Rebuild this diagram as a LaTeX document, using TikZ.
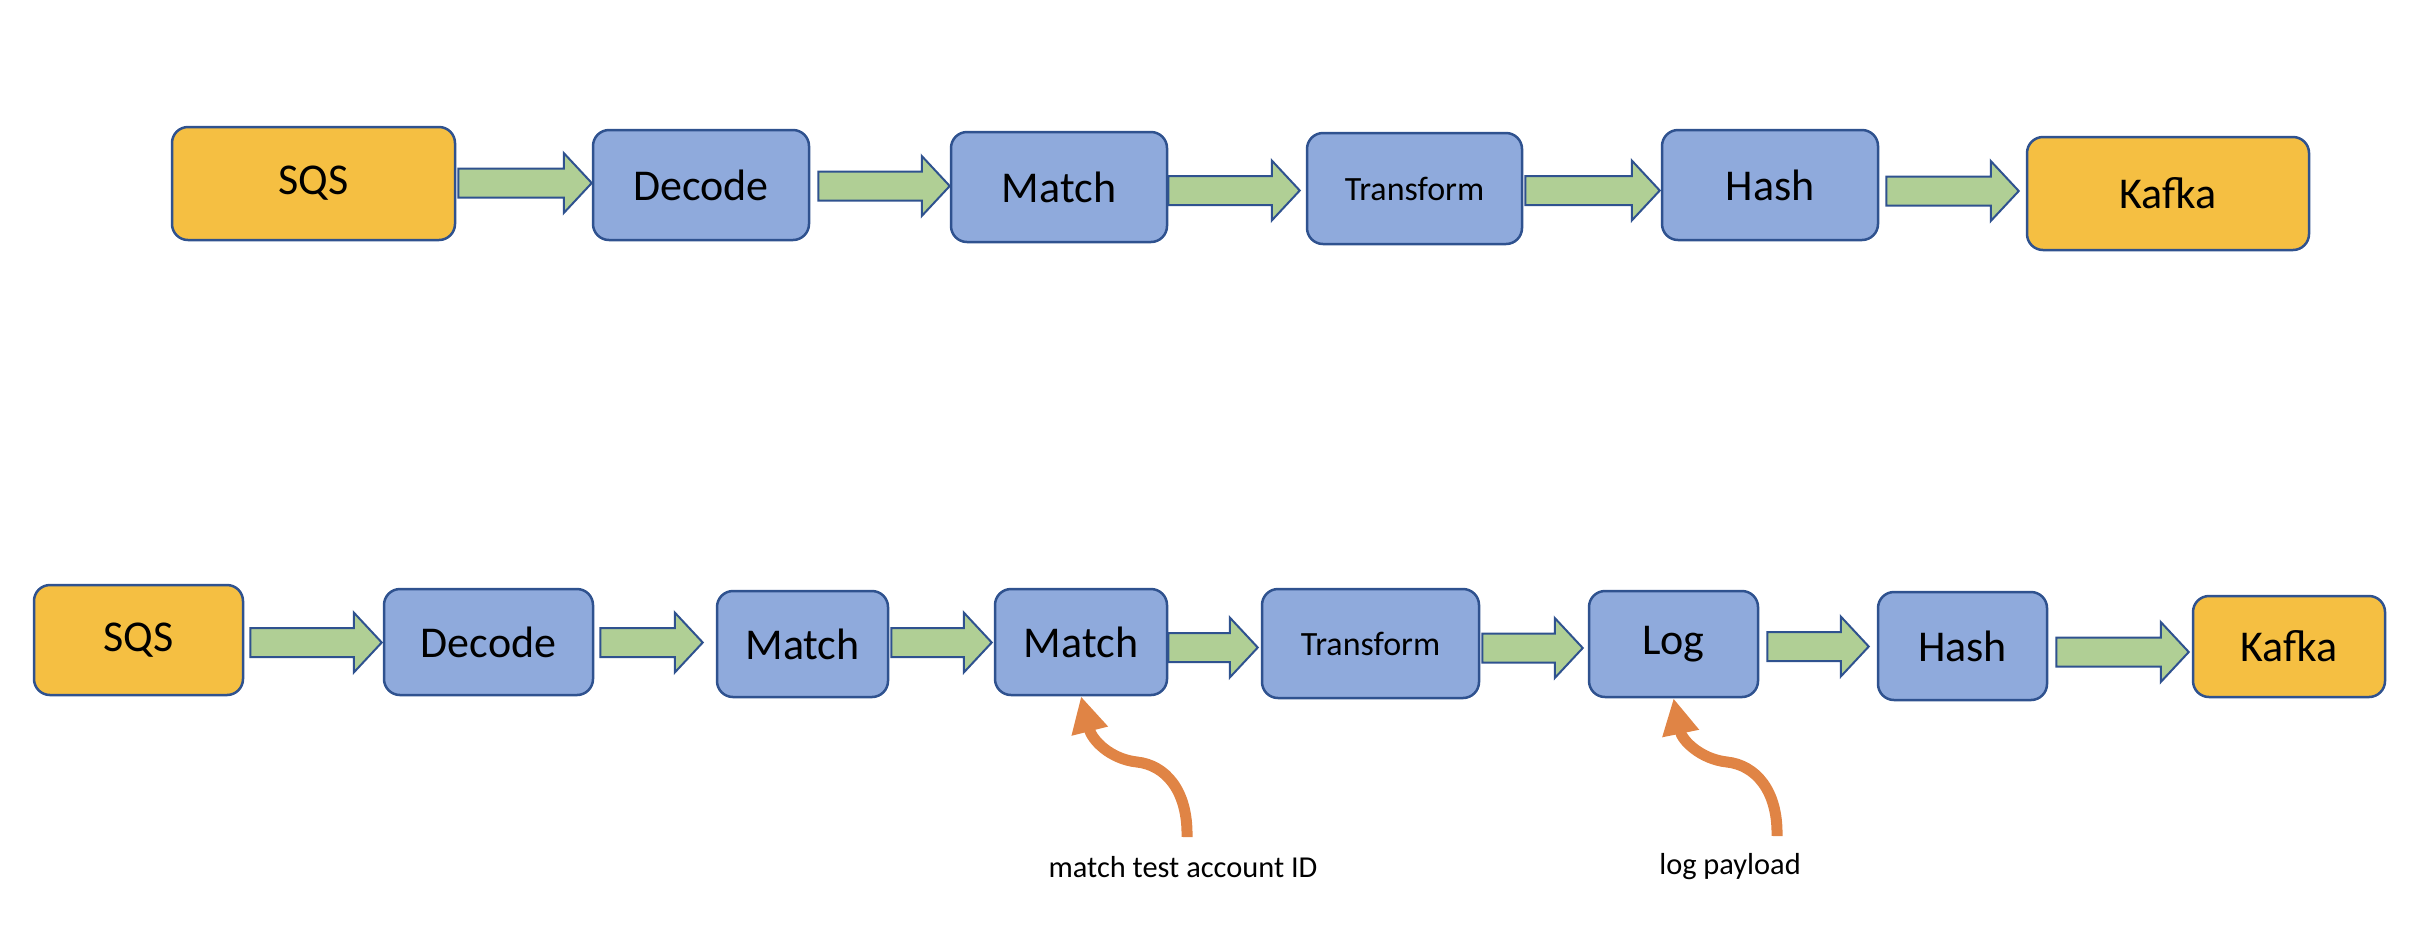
\documentclass[tikz,border=0pt]{standalone}
\usepackage{fontspec}
\setmainfont{Carlito}
\usetikzlibrary{arrows.meta,calc}
\definecolor{outl}{HTML}{2F528F}
\definecolor{bluefill}{HTML}{8FAADC}
\definecolor{goldfill}{HTML}{F5BF42}
\definecolor{greenfill}{HTML}{B0CF95}
\definecolor{orangec}{HTML}{E08445}
\tikzset{
  box/.style={draw=outl, line width=1.25pt, rounded corners=8pt, inner sep=0pt,
    font=\fontsize{22pt}{26pt}\selectfont},
  procbox/.style={box, fill=bluefill},
  endbox/.style={box, fill=goldfill},
  smalltext/.style={font=\fontsize{17pt}{20pt}\selectfont},
  blockarrow/.style={fill=greenfill, draw=outl, line width=1pt, line join=miter},
  orangearrow/.style={draw=orangec, line width=5.5pt,
    -{Triangle[width=17.5pt,length=18pt]}},
  lbl/.style={font=\fontsize{15.2pt}{18pt}\selectfont, inner sep=0pt}
}
\newcommand\barrow[5]{%
  \path[blockarrow] let \p1=(#1.east), \p2=(#2.west), \p3=(0,#3) in
    ({\x1+#4*0.5pt},{\y3+7.25pt}) -- ({\x2+#5*0.5pt-14pt},{\y3+7.25pt}) --
    ({\x2+#5*0.5pt-14pt},{\y3+15pt}) -- ({\x2+#5*0.5pt},\y3) --
    ({\x2+#5*0.5pt-14pt},{\y3-15pt}) -- ({\x2+#5*0.5pt-14pt},{\y3-7.25pt}) --
    ({\x1+#4*0.5pt},{\y3-7.25pt}) -- cycle;}
\begin{document}
\begin{tikzpicture}[x=0.5pt,y=-0.5pt]
\useasboundingbox (0,0) rectangle (2424,950);
% top row
\node[endbox, minimum width=141.5pt, minimum height=56.5pt] (sqs) at (313.5,183.5) {SQS};
\node[procbox, minimum width=108pt, minimum height=55pt] (dec) at (701,185) {Decode};
\node[procbox, minimum width=108pt, minimum height=55pt] (mat) at (1059,187) {Match};
\node[procbox, smalltext, minimum width=107.5pt, minimum height=55.5pt] (tra) at (1414.5,188.5) {Transform};
\node[procbox, minimum width=108pt, minimum height=55pt] (has) at (1770,185) {Hash};
\node[endbox, minimum width=141pt, minimum height=56.5pt] (kaf) at (2168,193.5) {Kafka};
\barrow{sqs}{dec}{183}{2}{0}
\barrow{dec}{mat}{186}{8}{0}
\barrow{mat}{tra}{190.5}{0}{-6}
\barrow{tra}{has}{190.5}{2}{-1}
\barrow{has}{kaf}{191}{7}{-7}
% bottom row
\node[endbox, minimum width=104.5pt, minimum height=55pt] (sqsb) at (138.5,640) {SQS};
\node[procbox, minimum width=104.5pt, minimum height=53pt] (decb) at (488.5,642) {Decode};
\node[procbox, minimum width=85.5pt, minimum height=53pt] (mata) at (802.5,644) {Match};
\node[procbox, minimum width=86pt, minimum height=53pt] (matb) at (1081,642) {Match};
\node[procbox, smalltext, minimum width=108.5pt, minimum height=54.5pt] (trab) at (1370.5,643.5) {Transform};
\node[procbox, minimum width=84.5pt, minimum height=53pt] (logb) at (1673.5,644) {Log};
\node[procbox, minimum width=84.5pt, minimum height=54pt] (hasb) at (1962.5,646) {Hash};
\node[endbox, minimum width=96pt, minimum height=50.5pt] (kafb) at (2289,646.5) {Kafka};
\barrow{sqsb}{decb}{642.5}{6}{-1}
\barrow{decb}{mata}{642.5}{6}{-13}
\barrow{mata}{matb}{642.5}{2}{-2}
\barrow{matb}{trab}{647.5}{0}{-3}
\barrow{trab}{logb}{648}{2}{-5}
\barrow{logb}{hasb}{646.5}{8}{-8}
\barrow{hasb}{kafb}{652}{8}{-3}
% annotations
\coordinate (o1) at (1187,837);
\coordinate (o2) at (1777,836);
\draw[orangearrow] (o1) .. controls (1188,790) and (1165,765) .. (1137,762)
  .. controls (1110,759) and (1092,740) .. (matb.south);
\draw[orangearrow] (o2) .. controls (1778,790) and (1755,765) .. (1727,762)
  .. controls (1700,759) and (1682,740) .. (logb.south);
\node[lbl] (l1) at (1183,867) {match test account ID};
\node[lbl] (l2) at (1730,867) {log payload};
\end{tikzpicture}
\end{document}
